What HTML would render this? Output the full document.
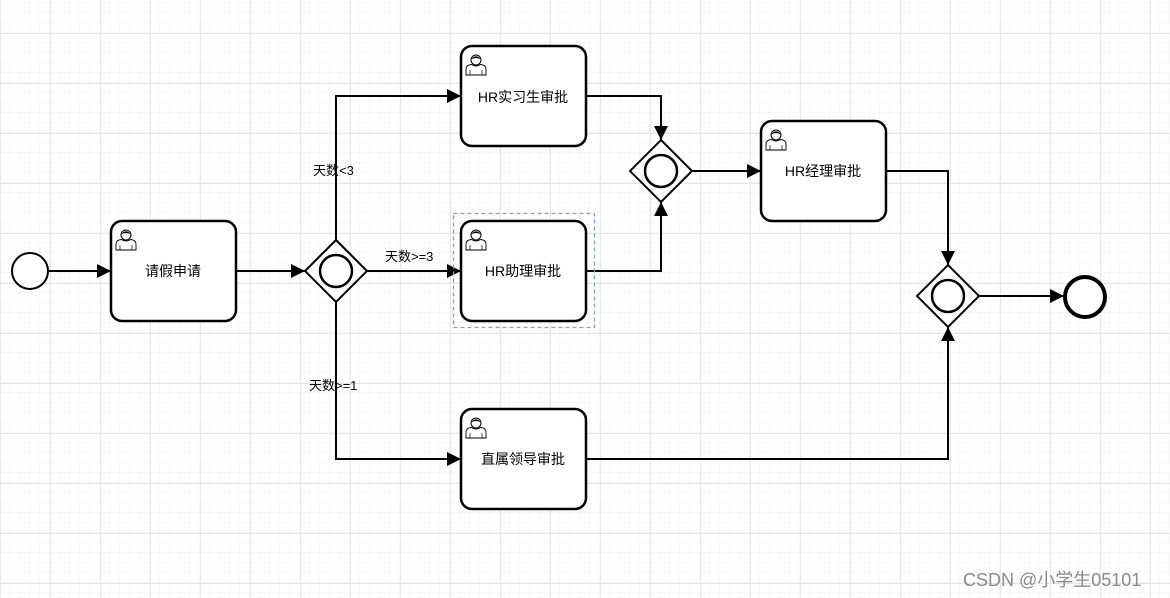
<!DOCTYPE html>
<html><head><meta charset="utf-8"><style>
html,body{margin:0;padding:0;background:#fff}
svg{display:block}
text{font-family:"Liberation Sans","Noto Sans CJK SC",sans-serif;font-size:14px;fill:#000}
</style></head><body>
<svg width="1170" height="598" viewBox="0 0 1170 598" xmlns="http://www.w3.org/2000/svg">
<defs>
<pattern id="mi" width="10" height="10" patternUnits="userSpaceOnUse" y="3">
<path d="M10 0V10M0 10H10" fill="none" stroke="#f2f2f2" stroke-width="1"/>
</pattern>
<pattern id="ma" width="50" height="50" patternUnits="userSpaceOnUse" y="33">
<path d="M0.5 0V50M0 0.5H50" fill="none" stroke="#e6e6e6" stroke-width="1"/>
</pattern>
<marker id="ar" viewBox="0 0 10 10" refX="10" refY="5" markerWidth="14" markerHeight="14" markerUnits="userSpaceOnUse" orient="auto">
<path d="M0 0L10 5L0 10z" fill="#000"/>
</marker>
<g id="user">
<circle cx="11" cy="7" r="5" fill="#fff" stroke="#000" stroke-width="1"/>
<path d="M6 6.5 Q11 0 16 6.5 Q11 3.5 6 6.5z" fill="#000"/>
<path d="M1 22V16Q1 12 6.5 11.5Q11 14.5 15.5 11.5Q21 12 21 16V22z" fill="#fff" stroke="#000" stroke-width="0.9"/>
<path d="M5 17V22M17 17V22" stroke="#000" stroke-width="0.7"/>
</g>
</defs>
<rect width="1170" height="598" fill="url(#mi)"/>
<rect width="1170" height="598" fill="url(#ma)"/>

<g fill="none" stroke="#000" stroke-width="2">
<path d="M48 271H111" marker-end="url(#ar)"/>
<path d="M236 271H305" marker-end="url(#ar)"/>
<path d="M336 240V96H461" marker-end="url(#ar)"/>
<path d="M367 271H461" marker-end="url(#ar)"/>
<path d="M336 302V459H461" marker-end="url(#ar)"/>
<path d="M586 96H661V140" marker-end="url(#ar)"/>
<path d="M586 271H661V202" marker-end="url(#ar)"/>
<path d="M692 171H761" marker-end="url(#ar)"/>
<path d="M886 171H948V265" marker-end="url(#ar)"/>
<path d="M586 459H948V327" marker-end="url(#ar)"/>
<path d="M979 296H1064" marker-end="url(#ar)"/>
</g>

<circle cx="30" cy="271" r="18" fill="#fff" stroke="#000" stroke-width="2"/>
<circle cx="1085" cy="297" r="20" fill="#fff" stroke="#000" stroke-width="4"/>

<rect x="453.5" y="213.5" width="141" height="114" fill="none" stroke="#7f9fd8" stroke-width="1.3" stroke-dasharray="4 3"/>

<g fill="#fff" stroke="#000" stroke-width="2.5">
<rect x="111" y="221" width="125" height="100" rx="11"/>
<rect x="461" y="46" width="125" height="100" rx="11"/>
<rect x="461" y="221" width="125" height="100" rx="11"/>
<rect x="461" y="409" width="125" height="100" rx="11"/>
<rect x="761" y="121" width="125" height="100" rx="11"/>
</g>
<g fill="#fff" stroke="#000" stroke-width="2">
<path d="M336 240L367 271L336 302L305 271Z"/>
<path d="M661 140L692 171L661 202L630 171Z"/>
<path d="M948 265L979 296L948 327L917 296Z"/>
</g>
<g fill="none" stroke="#000" stroke-width="2.5">
<circle cx="336" cy="271" r="16"/>
<circle cx="661" cy="171" r="16"/>
<circle cx="948" cy="296" r="16"/>
</g>

<use href="#user" x="115" y="228"/>
<use href="#user" x="465" y="53"/>
<use href="#user" x="465" y="228"/>
<use href="#user" x="465" y="416"/>
<use href="#user" x="765" y="128"/>

<g text-anchor="middle">
<text x="173" y="276">请假申请</text>
<text x="523" y="102">HR实习生审批</text>
<text x="523" y="276">HR助理审批</text>
<text x="523" y="464">直属领导审批</text>
<text x="823" y="176">HR经理审批</text>
</g>
<text x="313" y="175" style="font-size:13px">天数&lt;3</text>
<text x="385" y="261" style="font-size:13px">天数&gt;=3</text>
<text x="309" y="390" style="font-size:13px">天数&gt;=1</text>
<text x="963" y="586" style="font-size:18px;fill:#8a8a8a">CSDN @小学生05101</text>
</svg>
</body></html>
